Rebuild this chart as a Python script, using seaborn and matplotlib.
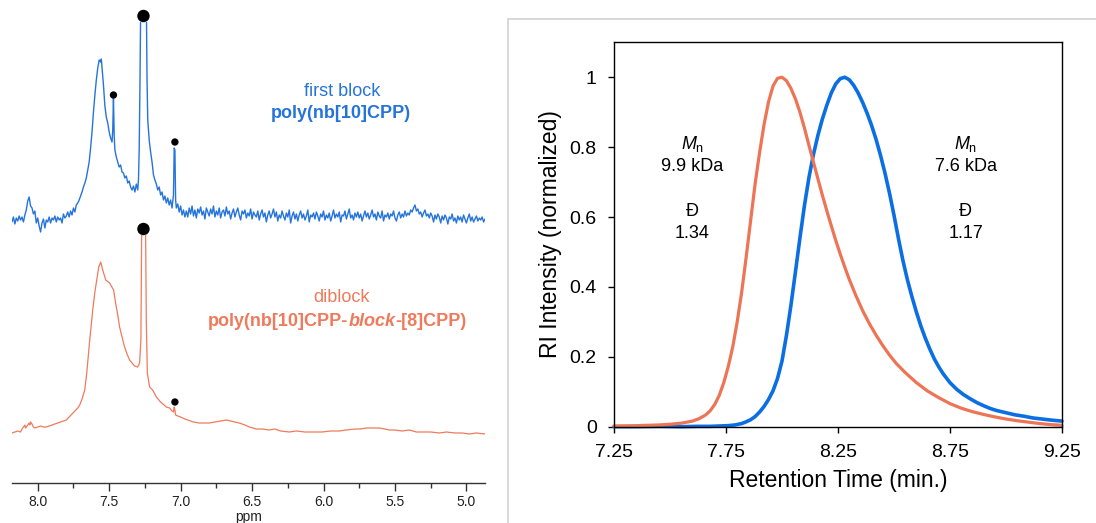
import numpy as np
import pandas as pd
import matplotlib
matplotlib.use("Agg")
import matplotlib.pyplot as plt
from matplotlib.patches import Rectangle
import seaborn as sns

# ---------------- NMR data (left panel) ----------------
# first block (blue) : intensity in arbitrary units above baseline
blue_left_ppm = np.linspace(8.18, 7.72, 47)
blue_left_int = [-2, 3, -4, 2, -1, 4, 0, 3, -2, 5,
                 10, 19, 23, 14, 12, 6, 9, -3, 2, -6,
                 -12, -3, 1, -8, 0, -2, 3, -3, 2, 0,
                 4, -2, 3, 0, 2, -3, 6, 2, 4, 8,
                 3, 9, 5, 12, 8, 15, 17]
blue_peak_ppm = [7.71, 7.70, 7.69, 7.68, 7.67, 7.66, 7.65, 7.64, 7.63, 7.62, 7.61, 7.60, 7.59, 7.58, 7.57, 7.56,
                 7.555, 7.55, 7.54, 7.53, 7.52, 7.51, 7.50, 7.49, 7.48,
                 7.475, 7.47, 7.465,
                 7.46, 7.45, 7.44, 7.43, 7.42, 7.41, 7.40, 7.39, 7.38, 7.37, 7.36, 7.35, 7.34, 7.33, 7.32, 7.31, 7.30,
                 7.295, 7.29, 7.285, 7.28, 7.27, 7.26, 7.25, 7.24, 7.235, 7.23,
                 7.22, 7.21, 7.20, 7.19, 7.18, 7.17, 7.16, 7.15, 7.14, 7.13, 7.12, 7.11, 7.10, 7.09, 7.08, 7.07, 7.06, 7.05,
                 7.045, 7.04, 7.035,
                 7.03, 7.02, 7.01, 7.00, 6.99, 6.98, 6.97]
blue_peak_int = [20, 24, 28, 33, 37, 42, 50, 58, 72, 88, 108, 125, 140, 152, 160, 158,
                 161, 152, 135, 114, 103, 97, 88, 82, 78,
                 90, 122, 85,
                 70, 63, 58, 53, 55, 48, 47, 42, 44, 37, 39, 33, 30, 34, 28, 36, 30,
                 40, 70, 130, 210, 320, 340, 320, 220, 140, 100,
                 80, 68, 58, 45, 40, 36, 30, 33, 25, 28, 20, 24, 17, 22, 15, 20, 12, 25,
                 72, 70, 20,
                 12, 16, 8, 14, 5, 10, 3]
blue_base_ppm = np.linspace(6.96, 4.87, 210)
blue_base_int = [9, 3, 12, 6, 14, 4, 10, 2, 11, 7,
                 13, 5, 9, 1, 12, 8, 4, 11, 6, 14,
                 3, 9, 5, 12, 2, 8, 10, 4, 13, 6,
                 9, 1, 7, 11, 3, 8, 12, 5, 0, 9,
                 6, 10, 2, 7, 4, 11, 1, 8, 5, 3,
                 9, 0, 6, 10, 3, 7, -2, 5, 9, 2,
                 6, 11, 3, 8, -1, 5, 2, 9, 4, 0,
                 7, 3, 10, -3, 4, 8, 1, 6, -1, 5,
                 9, 2, 6, 0, 4, 10, -2, 5, 3, 7,
                 1, 8, 4, -1, 6, 3, 9, 0, 5, 2,
                 7, -1, 4, 10, 2, 6, 3, 8, -2, 5,
                 4, 9, 1, 6, 11, 2, 5, 0, 7, 3,
                 8, 2, 6, -1, 4, 9, 3, 7, 1, 5,
                 10, 3, 6, 0, 8, 4, 2, 9, -1, 5,
                 3, 7, 1, 6, 4, 9, 2, -1, 5, 8,
                 2, 6, 3, 9, 4, 7, 5, 10, 8, 12,
                 15, 9, 11, 6, 8, 3, 7, 10, 4, 6,
                 2, 7, 4, -2, 5, 1, 6, 3, -3, 4,
                 0, 5, 2, -4, 3, 1, 6, -1, 2, -3,
                 4, 0, 3, -2, 5, 1, -3, 2, 6, -1,
                 3, -2, 1, 4, -1, 2, 0, 3, -2, 1]

# diblock (orange)
orange_ppm = [8.18, 8.16, 8.14, 8.12, 8.11, 8.10, 8.09, 8.085, 8.08, 8.07, 8.06, 8.055, 8.05, 8.04, 8.03, 8.02,
              8.00, 7.98, 7.96, 7.94, 7.92, 7.90, 7.88, 7.86, 7.84, 7.82, 7.80, 7.78, 7.76, 7.74, 7.72,
              7.706, 7.69, 7.671, 7.657, 7.636, 7.615, 7.60, 7.587, 7.573, 7.559, 7.545, 7.524, 7.497, 7.469,
              7.455, 7.44, 7.427, 7.41, 7.392, 7.375, 7.357, 7.34, 7.322, 7.301, 7.287, 7.278,
              7.275, 7.27, 7.26, 7.25, 7.245, 7.24, 7.233, 7.217, 7.196, 7.17, 7.14, 7.10, 7.077, 7.06, 7.05,
              7.045, 7.04, 7.035, 7.02, 7.00, 6.97, 6.95, 6.91, 6.87, 6.84, 6.80, 6.76, 6.72, 6.68, 6.65,
              6.62, 6.59, 6.55, 6.52, 6.47, 6.43, 6.38, 6.34, 6.30, 6.24, 6.19, 6.13, 6.07, 6.01, 5.95,
              5.89, 5.84, 5.78, 5.74, 5.70, 5.66, 5.61, 5.57, 5.54, 5.50, 5.45, 5.40, 5.35, 5.30, 5.25,
              5.19, 5.14, 5.08, 5.03, 4.98, 4.93, 4.87]
orange_int = [-1, 0, 1, 0, 3, 5, 7, 4, 5, 7, 9, 7, 10, 8, 5, 4,
              5, 6, 5, 5, 6, 7, 8, 9, 10, 11, 12, 15, 18, 21, 24,
              27, 33, 42, 59, 92, 122, 140, 152, 165, 170, 162, 152, 149, 142,
              129, 117, 105, 95, 85, 78, 72, 69, 66, 65, 69, 92,
              150, 260, 300, 280, 200, 110, 59, 45, 42, 35, 30, 25, 24, 21, 20,
              25, 22, 17, 16, 15, 13, 12, 10, 9, 9, 9, 10, 11, 12, 11,
              10, 9, 7, 5, 3, 3, 2, 3, 1, 0, 1, 0, 0, 0, 1,
              1, 2, 3, 3, 4, 4, 4, 3, 2, 2, 1, 2, 0, 0, 0,
              -1, 0, -1, -1, -2, -1, -2]

# marked impurity / solvent peaks (dots)
blue_dot_ppm = [7.26, 7.47, 7.04]
blue_dot_h = [204, 125, 78]
blue_dot_size = [80, 28, 28]
orange_dot_ppm = [7.26, 7.04]
orange_dot_h = [203, 30]
orange_dot_size = [80, 28]

nmr_ticks = [8.0, 7.5, 7.0, 6.5, 6.0, 5.5, 5.0]
nmr_minor = [7.75, 7.25, 6.75, 6.25, 5.75, 5.25]

# ---------------- GPC data (right panel) ----------------
gpc_blue_t = [7.25, 7.35, 7.45, 7.55, 7.62, 7.68, 7.72, 7.76, 7.79, 7.82, 7.84, 7.86, 7.88, 7.90, 7.92,
              7.94, 7.96, 7.98, 8.00, 8.02, 8.04, 8.06, 8.08, 8.10, 8.12, 8.14, 8.16, 8.18, 8.20, 8.22,
              8.24, 8.26, 8.28, 8.30, 8.32, 8.34, 8.36, 8.38, 8.40, 8.42, 8.44, 8.46, 8.48, 8.50, 8.52,
              8.54, 8.56, 8.58, 8.60, 8.62, 8.64, 8.66, 8.68, 8.70, 8.72, 8.75, 8.78, 8.81, 8.84, 8.87,
              8.90, 8.93, 8.96, 9.00, 9.04, 9.08, 9.12, 9.16, 9.20, 9.25]
gpc_blue_y = [0.000, 0.000, 0.001, 0.000, 0.001, 0.001, 0.002, 0.003, 0.005, 0.009, 0.014, 0.020, 0.029, 0.042, 0.058,
              0.078, 0.103, 0.138, 0.188, 0.262, 0.348, 0.443, 0.540, 0.632, 0.712, 0.778, 0.833, 0.880, 0.920, 0.955,
              0.981, 0.996, 1.000, 0.993, 0.977, 0.955, 0.928, 0.897, 0.862, 0.822, 0.776, 0.725, 0.668, 0.605, 0.538,
              0.475, 0.420, 0.372, 0.328, 0.288, 0.253, 0.222, 0.194, 0.171, 0.151, 0.126, 0.107, 0.092, 0.080, 0.069,
              0.060, 0.052, 0.046, 0.040, 0.034, 0.030, 0.025, 0.022, 0.019, 0.016]
gpc_orange_t = [7.25, 7.35, 7.45, 7.50, 7.55, 7.60, 7.63, 7.66, 7.68, 7.70, 7.72, 7.74, 7.76, 7.78, 7.80,
                7.82, 7.84, 7.86, 7.88, 7.90, 7.92, 7.94, 7.96, 7.98, 8.00, 8.02, 8.04, 8.06, 8.08, 8.10,
                8.12, 8.14, 8.16, 8.18, 8.20, 8.22, 8.24, 8.26, 8.28, 8.30, 8.33, 8.36, 8.39, 8.42, 8.45,
                8.48, 8.51, 8.55, 8.60, 8.65, 8.70, 8.75, 8.80, 8.85, 8.90, 8.95, 9.00, 9.05, 9.10, 9.15,
                9.20, 9.25]
gpc_orange_y = [0.002, 0.003, 0.005, 0.007, 0.010, 0.016, 0.023, 0.034, 0.046, 0.064, 0.090, 0.126, 0.172, 0.228, 0.300,
                0.385, 0.485, 0.590, 0.695, 0.785, 0.865, 0.930, 0.975, 0.997, 1.000, 0.990, 0.968, 0.938, 0.900, 0.855,
                0.806, 0.758, 0.710, 0.663, 0.618, 0.575, 0.533, 0.494, 0.457, 0.422, 0.375, 0.332, 0.295, 0.262, 0.232,
                0.205, 0.181, 0.155, 0.126, 0.102, 0.083, 0.066, 0.053, 0.043, 0.035, 0.028, 0.022, 0.017, 0.013, 0.009,
                0.006, 0.004]

gpc_xticks = [7.25, 7.75, 8.25, 8.75, 9.25]
gpc_xticklabels = ["7.25", "7.75", "8.25", "8.75", "9.25"]
gpc_yticks = [0, 0.2, 0.4, 0.6, 0.8, 1.0]
gpc_yticklabels = ["0", "0.2", "0.4", "0.6", "0.8", "1"]

label_left = ["9.9 kDa", "1.34"]
label_right = ["7.6 kDa", "1.17"]

# ---------------- colours ----------------
NMR_BLUE = "#2574dc"
NMR_ORANGE = "#ef7a5c"
GPC_BLUE = "#0b6fe3"
GPC_ORANGE = "#ee7456"

# ---------------- style ----------------
sns.set_theme(style="white")
plt.rcParams['font.family'] = ['Liberation Sans', 'DejaVu Sans']
plt.rcParams['mathtext.fontset'] = 'custom'
plt.rcParams['mathtext.rm'] = 'Liberation Sans'
plt.rcParams['mathtext.it'] = 'Liberation Sans:italic'
plt.rcParams['mathtext.bf'] = 'Liberation Sans:bold'

W, H = 1096, 523
fig = plt.figure(figsize=(W / 100, H / 100), dpi=100)
fig.patch.set_facecolor("white")


def rect(l, t, r, b):
    return [l / W, 1 - b / H, (r - l) / W, (b - t) / H]


ax_b = fig.add_axes(rect(12, 22, 485, 235))
ax_o = fig.add_axes(rect(12, 235, 485, 483))
ax_r = fig.add_axes(rect(614, 42.3, 1062, 426.7))

# ----- left: NMR spectra -----
blue_df = pd.DataFrame({
    "ppm": np.concatenate([blue_left_ppm, blue_peak_ppm, blue_base_ppm]),
    "I": np.concatenate([blue_left_int, blue_peak_int, blue_base_int]).astype(float),
})
orange_df = pd.DataFrame({"ppm": orange_ppm, "I": np.array(orange_int, dtype=float)})

sns.lineplot(data=blue_df, x="ppm", y="I", ax=ax_b, color=NMR_BLUE, lw=1.0,
             sort=False, estimator=None)
sns.lineplot(data=orange_df, x="ppm", y="I", ax=ax_o, color=NMR_ORANGE, lw=0.9,
             sort=False, estimator=None)

ax_b.scatter(blue_dot_ppm, blue_dot_h, s=blue_dot_size, color="black", zorder=5, clip_on=False, lw=0)
ax_o.scatter(orange_dot_ppm, orange_dot_h, s=orange_dot_size, color="black", zorder=5, clip_on=False, lw=0)

for ax in (ax_b, ax_o):
    ax.set_xlim(8.18, 4.87)
    ax.patch.set_alpha(0)
    for s in ("top", "right", "left"):
        ax.spines[s].set_visible(False)
    ax.set_ylabel("")
ax_b.set_ylim(-15, 198)
ax_o.set_ylim(-51, 197)
ax_b.spines["bottom"].set_visible(False)
ax_b.set_xticks([])
ax_b.set_yticks([])
ax_b.set_xlabel("")
ax_o.set_yticks([])
ax_o.spines["bottom"].set_color("#333333")
ax_o.spines["bottom"].set_linewidth(1.0)
ax_o.set_xticks(nmr_ticks)
ax_o.set_xticklabels([f"{v:.1f}" for v in nmr_ticks])
ax_o.set_xticks(nmr_minor, minor=True)
ax_o.tick_params(axis="x", which="major", direction="out", length=6, width=1.0,
                 color="#333333", labelsize=10, labelcolor="#222222", pad=3, bottom=True)
ax_o.tick_params(axis="x", which="minor", direction="out", length=3.5, width=1.0,
                 color="#333333", bottom=True)
ax_o.set_xlabel("ppm", fontsize=10, color="#222222", labelpad=0)

fig.text(342 / W, 1 - 91 / H, "first block", ha="center", va="center",
         fontsize=13, color=NMR_BLUE)
fig.text(341 / W, 1 - 113 / H, "poly(nb[10]CPP)", ha="center", va="center",
         fontsize=13, color=NMR_BLUE, fontweight="bold")
fig.text(342 / W, 1 - 298 / H, "diblock", ha="center", va="center",
         fontsize=13, color=NMR_ORANGE)
t1 = fig.text(208 / W, 1 - 321 / H, "poly(nb[10]CPP-", ha="left", va="center",
              fontsize=13, color=NMR_ORANGE, fontweight="bold")
t2 = ax_o.annotate("block", xy=(1, 0), xycoords=t1, ha="left", va="bottom",
                   fontsize=13, color=NMR_ORANGE, fontweight="bold", fontstyle="italic",
                   annotation_clip=False)
t3 = ax_o.annotate("-[8]CPP)", xy=(1, 0), xycoords=t2, ha="left", va="bottom",
                   fontsize=13, color=NMR_ORANGE, fontweight="bold", annotation_clip=False)

# ----- right: GPC traces -----
gb = pd.DataFrame({"t": gpc_blue_t, "y": gpc_blue_y})
go = pd.DataFrame({"t": gpc_orange_t, "y": gpc_orange_y})
sns.lineplot(data=gb, x="t", y="y", ax=ax_r, color=GPC_BLUE, lw=2.6, sort=False, estimator=None)
sns.lineplot(data=go, x="t", y="y", ax=ax_r, color=GPC_ORANGE, lw=2.3, sort=False, estimator=None)
for ln in ax_r.lines:
    ln.set_clip_on(False)
    ln.set_solid_joinstyle("round")
    ln.set_solid_capstyle("round")

ax_r.set_xlim(7.25, 9.25)
ax_r.set_ylim(0, 1.1)
ax_r.set_xticks(gpc_xticks)
ax_r.set_xticklabels(gpc_xticklabels)
ax_r.set_yticks(gpc_yticks)
ax_r.set_yticklabels(gpc_yticklabels)
for s in ax_r.spines.values():
    s.set_color("black")
    s.set_linewidth(1.0)
ax_r.tick_params(axis="both", direction="out", length=4.5, width=1.0, color="black",
                 labelsize=14, labelcolor="black", bottom=True, left=True)
ax_r.tick_params(axis="x", pad=8)
ax_r.tick_params(axis="y", pad=8)
ax_r.set_xlabel("Retention Time (min.)", fontsize=16.5, color="black", labelpad=6)
ax_r.set_ylabel("RI Intensity (normalized)", fontsize=16.5, color="black", labelpad=5)

for x, labs in ((7.60, label_left), (8.82, label_right)):
    ax_r.text(x, 0.809, r"$M_\mathrm{n}$", ha="center", va="center", fontsize=13, color="black")
    ax_r.text(x, 0.746, labs[0], ha="center", va="center", fontsize=13, color="black")
    ax_r.text(x, 0.617, "Đ", ha="center", va="center", fontsize=13, color="black")
    ax_r.text(x, 0.554, labs[1], ha="center", va="center", fontsize=13, color="black")

# light grey frame around right panel
fig.add_artist(Rectangle((508 / W, -0.05), 1.0, (1 - 19 / H) + 0.05, transform=fig.transFigure,
                         fill=False, ec="#d6d6d6", lw=1.3))

fig.savefig("out.png", dpi=100, facecolor="white")
